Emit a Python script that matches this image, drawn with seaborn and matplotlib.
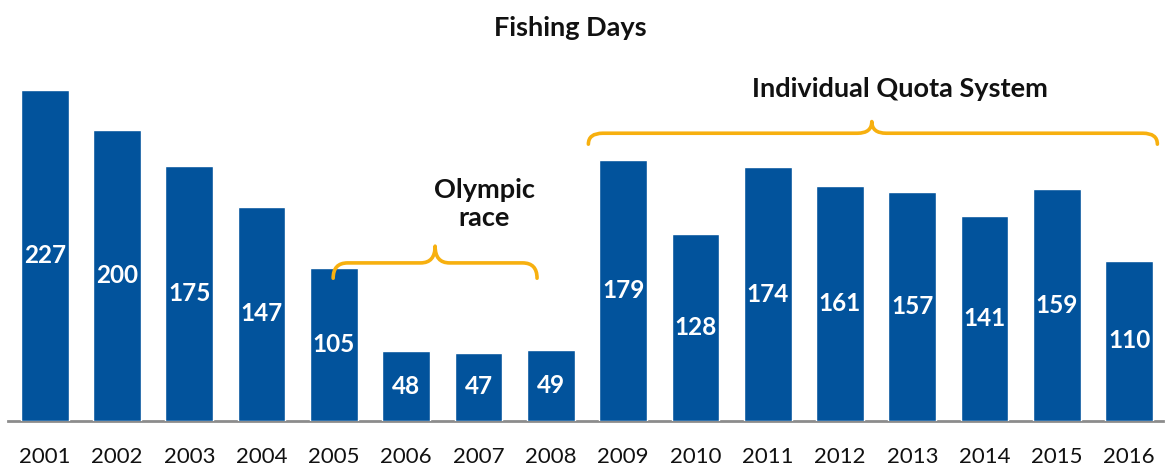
import matplotlib
matplotlib.use("Agg")
import matplotlib.pyplot as plt
import seaborn as sns
import pandas as pd
from matplotlib.path import Path
from matplotlib.patches import PathPatch

years = [str(y) for y in range(2001, 2017)]
days = [227, 200, 175, 147, 105, 48, 47, 49, 179, 128, 174, 161, 157, 141, 159, 110]

title = "Fishing Days"
olympic_label = "Olympic\nrace"
quota_label = "Individual Quota System"

bar_color = "#02539C"
brace_color = "#F7B00F"

sns.set_theme(style="white")
plt.rcParams["font.family"] = ["Lato", "DejaVu Sans"]

df = pd.DataFrame({"year": years, "days": days})

fig = plt.figure(figsize=(11.69, 4.67), dpi=100)
ax = fig.add_axes([0.007, 0.0985, 0.988, 0.78])

sns.barplot(data=df, x="year", y="days", color=bar_color, width=0.66,
            saturation=1, ax=ax, zorder=3)

ax.set_xlim(-0.505, 15.47)
ax.set_ylim(0, 250)

for i, v in enumerate(days):
    ax.text(i, v / 2, str(v), ha="center", va="center", color="white",
            fontsize=17.5, fontweight="bold", zorder=4)

def brace(x0, x1, xm, y_end, y_line, y_tip, rx=0.2):
    verts = [
        (x0, y_end), (x0, y_line), (x0 + rx, y_line),
        (xm - rx, y_line), (xm, y_line), (xm, y_tip),
        (xm, y_line), (xm + rx, y_line),
        (x1 - rx, y_line), (x1, y_line), (x1, y_end),
    ]
    codes = [Path.MOVETO, Path.CURVE3, Path.CURVE3,
             Path.LINETO, Path.CURVE3, Path.CURVE3,
             Path.CURVE3, Path.CURVE3,
             Path.LINETO, Path.CURVE3, Path.CURVE3]
    ax.add_patch(PathPatch(Path(verts, codes), fill=False, edgecolor=brace_color,
                           linewidth=2.6, capstyle="round", joinstyle="round",
                           zorder=5, clip_on=False))

brace(3.99, 6.81, 5.40, 98, 108.5, 120)
brace(7.52, 15.39, 11.44, 190, 197.5, 205.5)

ax.text(6.08, 149, olympic_label, ha="center", va="center", fontsize=19.5,
        fontweight="bold", color="#111111", linespacing=1.2)
ax.text(11.83, 228, quota_label, ha="center", va="center", fontsize=19.5,
        fontweight="bold", color="#111111")

fig.text(0.488, 0.940, title, ha="center", va="center", fontsize=19.5,
         fontweight="bold", color="#111111")

ax.set_xlabel("")
ax.set_ylabel("")
ax.set_yticks([])
ax.tick_params(axis="x", length=0, labelsize=16, pad=19, colors="#111111")
for side in ["top", "right", "left"]:
    ax.spines[side].set_visible(False)
ax.spines["bottom"].set_color("#8C8C8C")
ax.spines["bottom"].set_linewidth(2)

fig.savefig("out.png", dpi=100)
